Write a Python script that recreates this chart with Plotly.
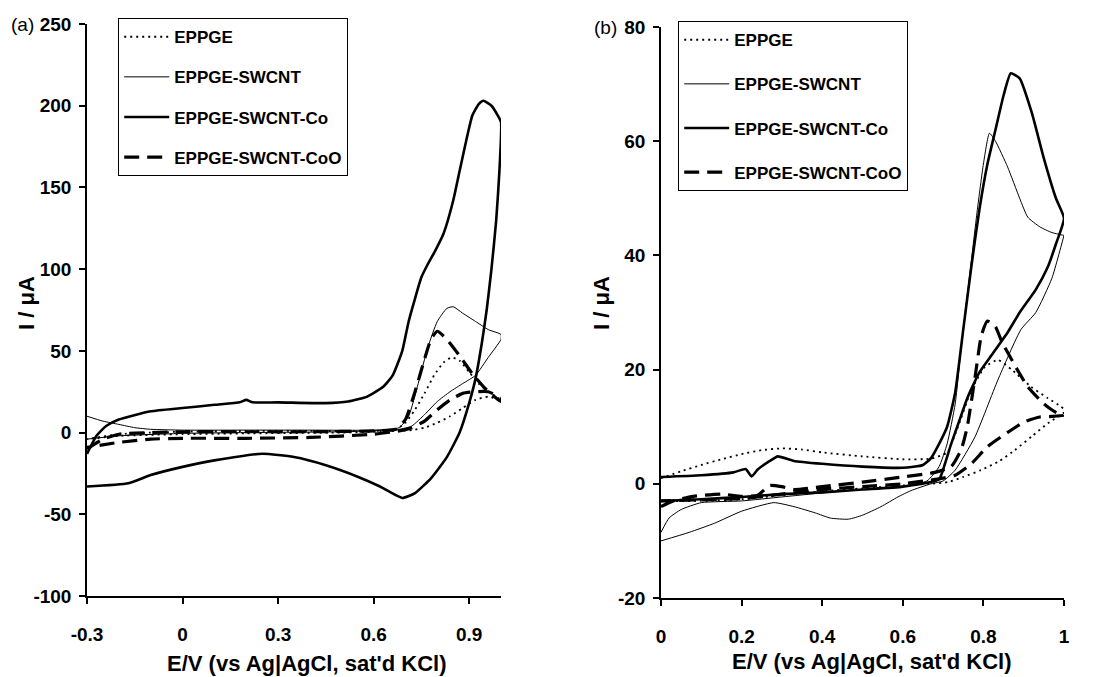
import plotly.graph_objects as go

# ---------------- Panel (a) data: E / V and I / uA ----------------
A_E_EPPGE = [-0.3, -0.2, -0.1, 0.0, 0.2, 0.4, 0.6, 0.67, 0.7, 0.73, 0.76, 0.79, 0.82, 0.845, 0.87, 0.9, 0.93, 0.96, 1.0,
             0.96, 0.92, 0.88, 0.84, 0.8, 0.76, 0.72, 0.68, 0.5, 0.2, 0.0, -0.2, -0.3]
A_I_EPPGE = [-4, -1, 0, 0.5, 1, 1, 1, 2, 6, 14, 24, 35, 43, 46, 44, 37, 30, 25, 20,
             22, 20, 15, 10, 6, 3, 1.5, 1, 0, -0.5, -1, -2, -4]

A_E_SWCNT = [-0.3, -0.25, -0.2, -0.15, -0.1, 0.0, 0.2, 0.4, 0.6, 0.68, 0.71, 0.74, 0.77, 0.8, 0.83, 0.85, 0.88, 0.92, 0.96, 1.0,
             1.0, 0.96, 0.92, 0.88, 0.84, 0.8, 0.76, 0.72, 0.68, 0.5, 0.2, 0.0, -0.2, -0.3]
A_I_SWCNT = [10, 7, 5, 3, 2, 1.5, 1.5, 1.5, 1.5, 3, 10, 30, 52, 68, 76, 77, 73, 68, 63, 60,
             57, 46, 35, 30, 25, 19, 11, 4, 2, 0.5, 0, -0.5, -2, -4]

A_E_CO = [-0.3, -0.27, -0.24, -0.2, -0.1, 0.0, 0.1, 0.18, 0.2, 0.22, 0.3, 0.45, 0.52, 0.58, 0.63, 0.66, 0.69, 0.71, 0.73,
          0.75, 0.77, 0.79, 0.82, 0.85, 0.87, 0.89, 0.91, 0.93, 0.945, 0.97, 0.99, 1.0,
          0.995, 0.985, 0.97, 0.955, 0.94, 0.92, 0.9, 0.87, 0.83, 0.78, 0.73, 0.69, 0.62, 0.55, 0.45, 0.35, 0.25,
          0.1, 0.0, -0.1, -0.17, -0.3]
A_I_CO = [-13, -2, 4, 8, 13, 15, 17, 18.5, 20, 18.5, 18.5, 18, 19, 22, 28, 35, 50, 68, 82,
          95, 103, 110, 122, 142, 160, 178, 194, 201, 203, 200, 194, 190,
          160, 130, 100, 75, 55, 33, 18, 0, -15, -28, -37, -40, -33, -27, -20, -15, -13,
          -17, -21, -26, -31, -33]

A_E_COO = [-0.3, -0.25, -0.2, -0.1, 0.0, 0.2, 0.4, 0.6, 0.67, 0.7, 0.73, 0.76, 0.78, 0.8, 0.83, 0.87, 0.91, 0.95, 1.0,
           1.0, 0.96, 0.92, 0.88, 0.84, 0.8, 0.76, 0.72, 0.68, 0.6, 0.4, 0.2, 0.0, -0.1, -0.2, -0.3]
A_I_COO = [-10, -4, -1, 0, 0.5, 0.5, 0.5, 1, 2, 8, 25, 45, 57, 62, 57, 47, 36, 27, 19,
           21, 25, 25, 24, 20, 14, 7, 3, 1, -1, -3, -3.5, -3.5, -4, -6, -9]

# ---------------- Panel (b) data ----------------
B_E_EPPGE = [0.0, 0.05, 0.1, 0.15, 0.2, 0.25, 0.3, 0.35, 0.4, 0.5, 0.6, 0.67, 0.71, 0.737, 0.77, 0.803, 0.836, 0.87, 0.918, 0.96, 0.993, 1.0,
             1.0, 0.96, 0.92, 0.878, 0.84, 0.794, 0.75, 0.712, 0.6, 0.5, 0.4, 0.3, 0.2, 0.1, 0.0]
B_I_EPPGE = [1, 2.2, 3.3, 4.3, 5.2, 5.9, 6.2, 6.0, 5.5, 4.8, 4.3, 4.4, 5.5, 10, 16.4, 20.4, 21.7, 20, 17, 15, 13.5, 13,
             12.5, 10.6, 8.3, 5.9, 4, 2.4, 1.2, 0.3, -0.3, -0.8, -1.3, -2, -2.7, -3, -3]

B_E_SWCNT = [0.0, 0.02, 0.05, 0.1, 0.2, 0.3, 0.4, 0.5, 0.6, 0.66, 0.69, 0.71, 0.73, 0.745, 0.765, 0.785, 0.8, 0.815, 0.83, 0.86, 0.89, 0.91, 0.94, 0.97, 1.0,
             1.0, 0.97, 0.93, 0.893, 0.836, 0.779, 0.73, 0.7, 0.67, 0.62, 0.588, 0.546, 0.5, 0.465, 0.42, 0.383, 0.33, 0.28,
             0.2, 0.133, 0.07, 0.0]
B_I_SWCNT = [-8.5, -6, -4.5, -3.3, -3, -2.3, -1.6, -1, -0.4, 0.5, 3, 7, 14, 24, 36, 48, 56, 61.4, 60, 55.5, 50, 46.7, 45, 44, 43.5,
             43.5, 36, 30, 27, 18.2, 8.2, 2.4, 0.5, 0, -1.2, -2.3, -4, -5.5, -6.2, -6, -5.1, -4, -3.3,
             -4.8, -6.9, -8.5, -10]

B_E_CO = [0.0, 0.1, 0.18, 0.21, 0.225, 0.24, 0.27, 0.29, 0.33, 0.4, 0.5, 0.6, 0.65, 0.67, 0.69, 0.71, 0.73, 0.75, 0.77, 0.79,
          0.81, 0.83, 0.85, 0.868, 0.89, 0.92, 0.95, 0.98, 1.0,
          0.98, 0.96, 0.93, 0.89, 0.86, 0.82, 0.79, 0.76, 0.74, 0.72, 0.705, 0.69, 0.6, 0.5, 0.4, 0.3, 0.2, 0.1, 0.0]
B_I_CO = [1.2, 1.5, 2, 2.6, 1.3, 2.5, 4, 4.8, 4, 3.5, 3, 2.8, 3.3, 4.5, 7, 10, 16, 27, 38, 48,
          56, 62, 68, 71.9, 71, 65, 57, 50, 46.5,
          42, 38, 34, 30, 26.5, 22.5, 19.5, 15, 11, 7, 3.6, 0.8, -0.5, -1, -1.5, -1.8, -2.3, -2.7, -3]

B_E_COO = [0.0, 0.03, 0.08, 0.15, 0.2, 0.24, 0.27, 0.3, 0.33, 0.4, 0.5, 0.6, 0.68, 0.72, 0.745, 0.76, 0.78, 0.795, 0.81, 0.83,
           0.845, 0.88, 0.91, 0.95, 0.98, 1.0,
           0.97, 0.94, 0.9, 0.86, 0.81, 0.77, 0.73, 0.7, 0.6, 0.5, 0.4, 0.3, 0.2, 0.1, 0.0]
B_I_COO = [-4, -3, -2.2, -1.8, -2.2, -2, -0.3, -0.5, -1, -0.5, 0.3, 1.2, 2, 3, 6, 10, 19, 26, 28.5, 27.5,
           25, 20.5, 17, 14, 12.5, 12,
           11.8, 11.7, 10.8, 9, 6.5, 3.5, 1.5, 1, 0, -0.5, -1, -1.8, -2.6, -2.8, -3]

LABELS = ["EPPGE", "EPPGE-SWCNT", "EPPGE-SWCNT-Co", "EPPGE-SWCNT-CoO"]
A_X_TICKS = [-0.3, 0, 0.3, 0.6, 0.9]
A_X_TEXT = ["-0.3", "0", "0.3", "0.6", "0.9"]
A_Y_TICKS = [-100, -50, 0, 50, 100, 150, 200, 250]
A_Y_TEXT = ["-100", "-50", "0", "50", "100", "150", "200", "250"]
B_X_TICKS = [0, 0.2, 0.4, 0.6, 0.8, 1]
B_X_TEXT = ["0", "0.2", "0.4", "0.6", "0.8", "1"]
B_Y_TICKS = [-20, 0, 20, 40, 60, 80]
B_Y_TEXT = ["-20", "0", "20", "40", "60", "80"]

STYLES = [
    dict(color="black", width=1.8, dash="2px,4px"),
    dict(color="black", width=1.0),
    dict(color="black", width=2.6),
    dict(color="black", width=3.2, dash="15px,8px"),
]

FONT = "Liberation Sans, Arial, sans-serif"
W, H = 1108, 677

fig = go.Figure()
a_sets = [(A_E_EPPGE, A_I_EPPGE), (A_E_SWCNT, A_I_SWCNT), (A_E_CO, A_I_CO), (A_E_COO, A_I_COO)]
b_sets = [(B_E_EPPGE, B_I_EPPGE), (B_E_SWCNT, B_I_SWCNT), (B_E_CO, B_I_CO), (B_E_COO, B_I_COO)]
for i, (xs, ys) in enumerate(a_sets):
    fig.add_trace(go.Scatter(x=xs, y=ys, mode="lines", name=LABELS[i], line=STYLES[i],
                             line_shape="spline", line_smoothing=0.5,
                             xaxis="x", yaxis="y", legend="legend", legendgroup="a%d" % i))
for i, (xs, ys) in enumerate(b_sets):
    fig.add_trace(go.Scatter(x=xs, y=ys, mode="lines", name=LABELS[i], line=STYLES[i],
                             line_shape="spline", line_smoothing=0.5,
                             xaxis="x2", yaxis="y2", legend="legend2", legendgroup="b%d" % i))

def px_x(p):
    return p / W

def px_y(p):
    return 1 - p / H

axis_common = dict(showline=True, linecolor="black", linewidth=1.5, ticks="outside", ticklen=6,
                   tickwidth=1.5, tickcolor="black", showgrid=False, zeroline=False, automargin=False,
                   tickfont=dict(family=FONT, size=19, color="black", weight="bold"))

legend_font = dict(family=FONT, size=17, color="black", weight="bold")

fig.update_layout(
    width=W, height=H, autosize=False,
    margin=dict(l=0, r=0, t=0, b=0, pad=0),
    paper_bgcolor="white", plot_bgcolor="white",
    showlegend=True,
    xaxis=dict(domain=[px_x(87), px_x(501)], range=[-0.3, 1.0], tickvals=A_X_TICKS, ticktext=A_X_TEXT,
               anchor="y", ticklabelstandoff=14, **axis_common),
    yaxis=dict(domain=[px_y(596), px_y(24)], range=[-100, 250], tickvals=A_Y_TICKS, ticktext=A_Y_TEXT,
               anchor="x", ticklabelstandoff=4, **axis_common),
    xaxis2=dict(domain=[px_x(661), px_x(1064)], range=[0, 1.0], tickvals=B_X_TICKS, ticktext=B_X_TEXT,
                anchor="y2", ticklabelstandoff=14, **axis_common),
    yaxis2=dict(domain=[px_y(598), px_y(27)], range=[-20, 80], tickvals=B_Y_TICKS, ticktext=B_Y_TEXT,
                anchor="x2", ticklabelstandoff=4, **axis_common),
    legend=dict(x=px_x(118), y=px_y(18), xanchor="left", yanchor="top",
                bordercolor="black", borderwidth=1.2, bgcolor="white",
                font=legend_font, itemwidth=45,
                tracegroupgap=15, traceorder="grouped"),
    legend2=dict(x=px_x(678), y=px_y(21), xanchor="left", yanchor="top",
                 bordercolor="black", borderwidth=1.2, bgcolor="white",
                 font=legend_font, itemwidth=45,
                 tracegroupgap=19, traceorder="grouped"),
)

title_font = dict(family=FONT, size=22, color="black", weight="bold")
fig.add_annotation(x=px_x(307), y=px_y(663), xref="paper", yref="paper", showarrow=False,
                   text="E/V (vs Ag|AgCl, sat'd KCl)", font=title_font, xanchor="center", yanchor="middle")
fig.add_annotation(x=px_x(872), y=px_y(661), xref="paper", yref="paper", showarrow=False,
                   text="E/V (vs Ag|AgCl, sat'd KCl)", font=title_font, xanchor="center", yanchor="middle")
fig.add_annotation(x=px_x(26), y=px_y(303), xref="paper", yref="paper", showarrow=False,
                   text="I / μA", textangle=-90, font=title_font, xanchor="center", yanchor="middle")
fig.add_annotation(x=px_x(601), y=px_y(303), xref="paper", yref="paper", showarrow=False,
                   text="I / μA", textangle=-90, font=title_font, xanchor="center", yanchor="middle")
fig.add_annotation(x=px_x(22), y=px_y(24), xref="paper", yref="paper", showarrow=False,
                   text="(a)", font=dict(family=FONT, size=19, color="black"), xanchor="center", yanchor="middle")
fig.add_annotation(x=px_x(605), y=px_y(27), xref="paper", yref="paper", showarrow=False,
                   text="(b)", font=dict(family=FONT, size=19, color="black"), xanchor="center", yanchor="middle")

fig.write_html("out.html")
